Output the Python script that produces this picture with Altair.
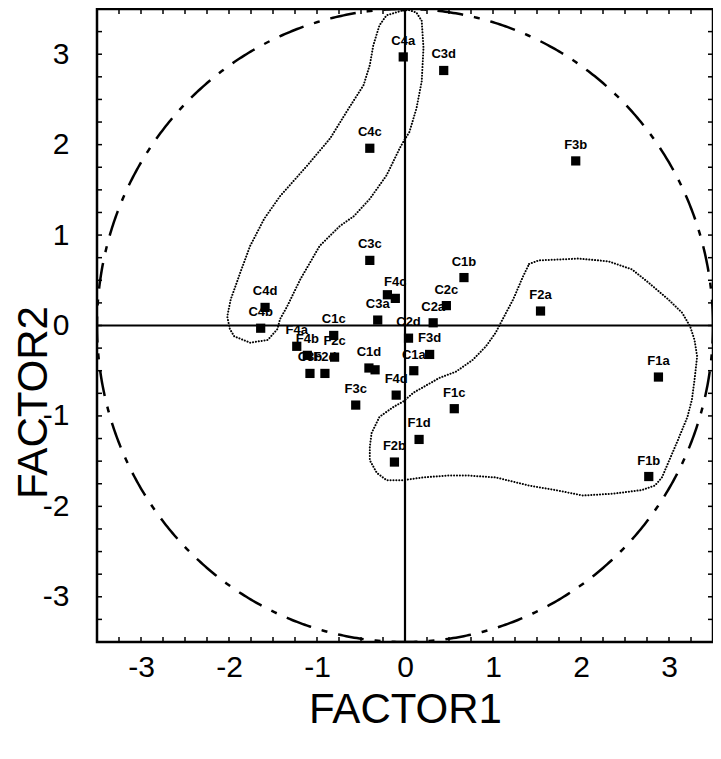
import altair as alt
import pandas as pd
import numpy as np

# ---- data ----
names = ["C4a", "C3d", "C4c", "F3b", "C3c", "C1b", "F4c", "F3a", "C2c", "C2a",
         "C3a", "C4d", "C4b", "C2d", "C1c", "F3d", "F4a", "F4b", "F2c", "C1a",
         "C1d", "C2b", "C3b", "F2d", "F2a", "F1a", "F4d", "F3c", "F1c", "F1d",
         "F2b", "F1b"]
factor1 = [-0.02, 0.44, -0.40, 1.94, -0.40, 0.67, -0.11, -0.20, 0.47, 0.32,
           -0.31, -1.59, -1.64, 0.04, -0.81, 0.28, -1.23, -1.11, -0.80, 0.10,
           -0.41, -0.34, -1.08, -0.91, 1.54, 2.88, -0.10, -0.56, 0.56, 0.16,
           -0.12, 2.77]
factor2 = [2.97, 2.82, 1.96, 1.82, 0.72, 0.53, 0.30, 0.34, 0.22, 0.03,
           0.06, 0.20, -0.03, -0.14, -0.11, -0.32, -0.23, -0.33, -0.35, -0.50,
           -0.47, -0.49, -0.53, -0.53, 0.16, -0.57, -0.77, -0.88, -0.92, -1.26,
           -1.51, -1.67]
hidden_labels = ["F3a", "C2b"]

# dotted enclosure around the C4 group
encA_x = [-0.04, -0.21, -0.29, -0.36, -0.40, -0.47, -0.66, -0.85, -1.11, -1.42,
          -1.60, -1.76, -1.87, -1.98, -2.02, -1.99, -1.94, -1.76, -1.56, -1.45,
          -1.42, -1.34, -1.19, -0.97, -0.74, -0.58, -0.40, -0.21, -0.06, -0.02,
          0.05, 0.13, 0.19, 0.21, 0.19, 0.13, 0.04, -0.04]
encA_y = [3.48, 3.43, 3.32, 3.10, 2.88, 2.66, 2.37, 2.07, 1.77, 1.43,
          1.18, 0.88, 0.59, 0.29, 0.10, -0.04, -0.12, -0.19, -0.16, -0.04,
          0.07, 0.21, 0.51, 0.88, 1.10, 1.21, 1.40, 1.66, 1.96, 2.03,
          2.14, 2.40, 2.70, 3.07, 3.37, 3.46, 3.49, 3.48]
# dotted enclosure around the F1/F2 group
encB_x = [1.41, 1.52, 1.97, 2.31, 2.58, 2.76, 2.99, 3.15, 3.24, 3.29,
          3.32, 3.29, 3.26, 3.21, 3.10, 2.99, 2.92, 2.84, 2.69, 2.36,
          2.02, 1.71, 1.41, 1.03, 0.73, 0.47, 0.21, -0.02, -0.21, -0.32,
          -0.40, -0.40, -0.38, -0.29, -0.13, -0.02, 0.10, 0.21, 0.39, 0.58,
          0.77, 0.92, 1.03, 1.11, 1.23, 1.34, 1.41]
encB_y = [0.68, 0.72, 0.74, 0.71, 0.62, 0.48, 0.29, 0.14, -0.01, -0.16,
          -0.34, -0.60, -0.82, -1.01, -1.27, -1.52, -1.68, -1.77, -1.82, -1.86,
          -1.88, -1.82, -1.77, -1.68, -1.66, -1.66, -1.68, -1.71, -1.71, -1.63,
          -1.49, -1.34, -1.19, -1.01, -0.90, -0.84, -0.74, -0.68, -0.58, -0.51,
          -0.38, -0.23, -0.08, 0.07, 0.29, 0.54, 0.68]

circle_radius = 3.5
axis_values = [-3, -2, -1, 0, 1, 2, 3]
lim = 3.5

# ---- build tables ----
W, H = 616, 633
FONT = "Liberation Sans"

pts = pd.DataFrame({"name": names, "x": factor1, "y": factor2})
labs = pts[~pts["name"].isin(hidden_labels)]

enc = pd.concat([
    pd.DataFrame({"g": "A", "i": range(len(encA_x)), "x": encA_x, "y": encA_y}),
    pd.DataFrame({"g": "B", "i": range(len(encB_x)), "x": encB_x, "y": encB_y}),
])

th = np.linspace(0, 2 * np.pi, 721)
circ = pd.DataFrame({"i": range(len(th)),
                     "x": circle_radius * np.cos(th),
                     "y": circle_radius * np.sin(th)})

tick_pos = [round(-lim + 0.25 * k, 2) for k in range(int(2 * lim / 0.25) + 1)]
ticks = pd.DataFrame({"x": tick_pos, "y": tick_pos})

xs = alt.Scale(domain=[-lim, lim], nice=False, zero=False)
ys = alt.Scale(domain=[-lim, lim], nice=False, zero=False)

x_axis = alt.Axis(values=axis_values, tickSize=0, domain=False, grid=False,
                  labelExpr="'' + datum.value",
                  labelFont=FONT, labelFontSize=30, labelColor="black",
                  labelPadding=10, titleFont=FONT, titleFontSize=42,
                  titleFontWeight="normal", titleColor="black",
                  titleBaseline="alphabetic", titleY=80)
y_axis = alt.Axis(values=axis_values, tickSize=0, domain=False, grid=False,
                  labelExpr="'' + datum.value",
                  labelFont=FONT, labelFontSize=30, labelColor="black",
                  labelPadding=28, titleFont=FONT, titleFontSize=42,
                  titleFontWeight="normal", titleColor="black",
                  titleBaseline="alphabetic", titleX=-51, titleY=393, titleAngle=270)


def X():
    return alt.X("x:Q", scale=xs, axis=x_axis, title="FACTOR1")


def Y():
    return alt.Y("y:Q", scale=ys, axis=y_axis, title="FACTOR2")


circle = alt.Chart(circ).mark_line(
    clip=True, color="black", strokeWidth=2.5, strokeDash=[26, 11, 6, 11]
).encode(x=X(), y=Y(), order="i:Q")

enclosures = alt.Chart(enc).mark_line(
    clip=True, color="black", strokeWidth=2, strokeDash=[0.1, 2.8], strokeCap="round"
).encode(x=X(), y=Y(), detail="g:N", order="i:Q")

zero_x = alt.Chart(pd.DataFrame({"x": [0]})).mark_rule(color="black", strokeWidth=2.2).encode(x=X())
zero_y = alt.Chart(pd.DataFrame({"y": [0]})).mark_rule(color="black", strokeWidth=2.2).encode(y=Y())

tick_base = alt.Chart(ticks)
TL = 5
t_bottom = tick_base.mark_rule(color="black", strokeWidth=1.5).encode(
    x=X(), y=alt.value(H), y2=alt.value(H - TL))
t_top = tick_base.mark_rule(color="black", strokeWidth=1.5).encode(
    x=X(), y=alt.value(0), y2=alt.value(TL))
t_left = tick_base.mark_rule(color="black", strokeWidth=1.5).encode(
    y=Y(), x=alt.value(0), x2=alt.value(TL))
t_right = tick_base.mark_rule(color="black", strokeWidth=1.5).encode(
    y=Y(), x=alt.value(W), x2=alt.value(W - TL))

markers = alt.Chart(pts).mark_square(size=85, color="black", opacity=1).encode(x=X(), y=Y())
labels = alt.Chart(labs).mark_text(
    font=FONT, fontSize=13, fontWeight="bold", color="black", dy=-16,
    align="center", baseline="middle"
).encode(x=X(), y=Y(), text="name:N")

chart = alt.layer(
    circle, enclosures, zero_x, zero_y, t_bottom, t_top, t_left, t_right, markers, labels
).properties(
    width=W, height=H,
    padding={"left": 89, "top": 1, "right": 0, "bottom": 98},
    autosize="none",
).configure_view(stroke="black", strokeWidth=2.5)

chart.save("out.html", embed_options={"renderer": "svg", "actions": False})
